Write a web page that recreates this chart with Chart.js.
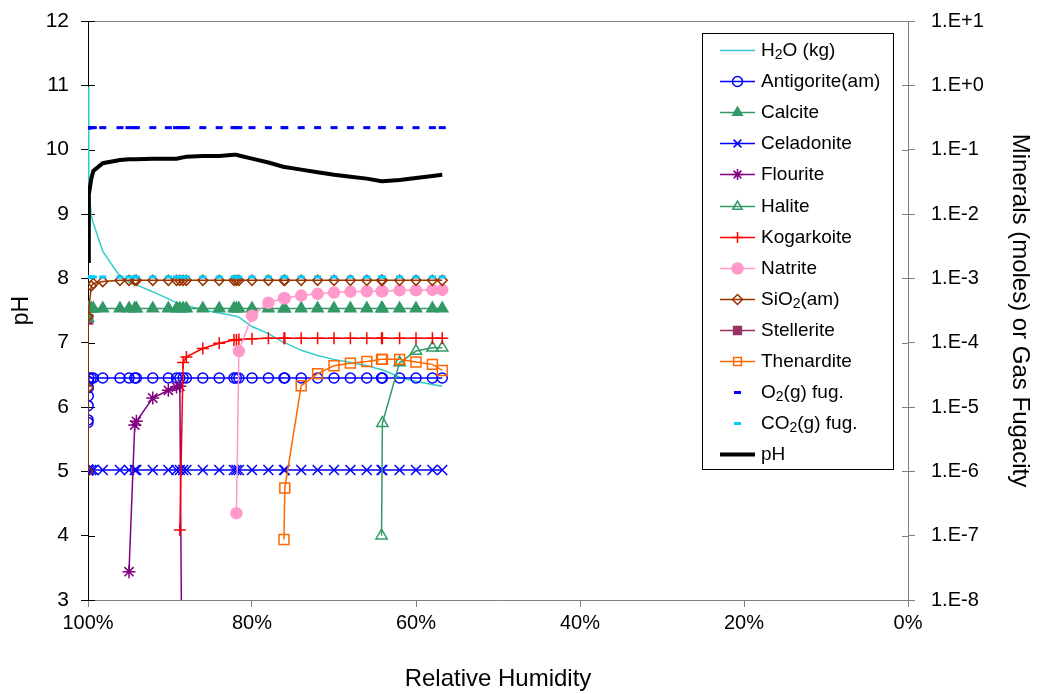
<!DOCTYPE html>
<html>
<head>
<meta charset="utf-8">
<title>Evaporation path</title>
<script src="https://cdn.jsdelivr.net/npm/chart.js@4.4.1/dist/chart.umd.min.js"></script>
<style>
  html, body { margin: 0; padding: 0; background: #fff; }
  #wrap { width: 1037px; height: 694px; }
</style>
</head>
<body>
<div id="wrap"><canvas id="rhChart" width="1037" height="694"></canvas></div>
<script>
const _ = null;

// relative humidity (%) at each reaction step
const rh = [100, 99.99, 99.98, 99.97, 99.96, 99.95, 99.9, 99.6, 99.35, 98.2,
  96.1, 95.0, 94.3, 94.1, 92.1, 90.2, 89.2, 88.8, 88.4, 88.0,
  86.0, 84.0, 82.2, 81.9, 81.6, 80.0, 78.0, 76.1, 76.0, 74.0,
  72.0, 70.0, 68.0, 66.0, 64.2, 64.1, 62.0, 60.0, 58.0, 56.8];

// right axis: water mass (kg), mineral amounts (moles), gas fugacities
const h2o = [0.95, _, _, _, _, _, 0.0275, 9.3e-3, 7.2e-3, 2.63e-3,
  1.07e-3, 8.7e-4, 8.1e-4, 7.9e-4, 6.2e-4, 4.8e-4, 4.2e-4, 4.1e-4, 4.0e-4, 3.8e-4,
  3.24e-4, 2.9e-4, 2.63e-4, 2.57e-4, 2.5e-4, 1.78e-4, 1.38e-4, 1.0e-4, 1.0e-4, 7.6e-5,
  6.3e-5, 5.5e-5, 4.9e-5, 4.4e-5, 3.8e-5, 3.8e-5, 2.9e-5, 2.5e-5, 2.24e-5, 2.1e-5];

const antigorite = [5.75e-6, 6.3e-6, 1.05e-5, 1.48e-5, 2.0e-5, 2.51e-5, 2.82e-5, 2.82e-5, 2.82e-5, 2.82e-5,
  2.82e-5, 2.82e-5, 2.82e-5, 2.82e-5, 2.82e-5, 2.82e-5, 2.82e-5, 2.82e-5, 2.82e-5, 2.82e-5,
  2.82e-5, 2.82e-5, 2.82e-5, 2.82e-5, 2.82e-5, 2.82e-5, 2.82e-5, 2.82e-5, 2.82e-5, 2.82e-5,
  2.82e-5, 2.82e-5, 2.82e-5, 2.82e-5, 2.82e-5, 2.82e-5, 2.82e-5, 2.82e-5, 2.82e-5, 2.82e-5];

const calcite = [2.4e-4, 3.39e-4, 3.39e-4, 3.39e-4, 3.39e-4, 3.39e-4, 3.39e-4, 3.39e-4, 3.39e-4, 3.39e-4,
  3.39e-4, 3.39e-4, 3.39e-4, 3.39e-4, 3.39e-4, 3.39e-4, 3.39e-4, 3.39e-4, 3.39e-4, 3.39e-4,
  3.39e-4, 3.39e-4, 3.39e-4, 3.39e-4, 3.39e-4, 3.39e-4, 3.39e-4, 3.39e-4, 3.39e-4, 3.39e-4,
  3.39e-4, 3.39e-4, 3.39e-4, 3.39e-4, 3.39e-4, 3.39e-4, 3.39e-4, 3.39e-4, 3.39e-4, 3.39e-4];

const celadonite = [1.05e-6, 1.05e-6, 1.05e-6, 1.05e-6, 1.05e-6, 1.05e-6, 1.05e-6, 1.05e-6, 1.05e-6, 1.05e-6,
  1.05e-6, 1.05e-6, 1.05e-6, 1.05e-6, 1.05e-6, 1.05e-6, 1.05e-6, 1.05e-6, 1.05e-6, 1.05e-6,
  1.05e-6, 1.05e-6, 1.05e-6, 1.05e-6, 1.05e-6, 1.05e-6, 1.05e-6, 1.05e-6, 1.05e-6, 1.05e-6,
  1.05e-6, 1.05e-6, 1.05e-6, 1.05e-6, 1.05e-6, 1.05e-6, 1.05e-6, 1.05e-6, 1.05e-6, 1.05e-6];

const flourite = [_, _, _, _, _, _, _, _, _, _,
  _, 2.75e-8, 5.25e-6, 6.0e-6, 1.38e-5, 1.82e-5, 2.04e-5, 2.1e-5, 1e-12, _,
  _, _, _, _, _, _, _, _, _, _,
  _, _, _, _, _, _, _, _, _, _];

const halite = [_, _, _, _, _, _, _, _, _, _,
  _, _, _, _, _, _, _, _, _, _,
  _, _, _, _, _, _, _, _, _, _,
  _, _, _, _, 1.0e-7, 5.6e-6, 4.9e-5, 7.4e-5, 8.3e-5, 8.3e-5];

const kogarkoite = [_, _, _, _, _, _, _, _, _, _,
  _, _, _, _, _, _, _, 1.23e-7, 4.9e-5, 6.0e-5,
  8.1e-5, 9.8e-5, 1.1e-4, 1.1e-4, 1.12e-4, 1.15e-4, 1.17e-4, 1.17e-4, 1.17e-4, 1.17e-4,
  1.17e-4, 1.17e-4, 1.17e-4, 1.17e-4, 1.17e-4, 1.17e-4, 1.17e-4, 1.17e-4, 1.17e-4, 1.17e-4];

const natrite = [_, _, _, _, _, _, _, _, _, _,
  _, _, _, _, _, _, _, _, _, _,
  _, _, _, 2.24e-7, 7.4e-5, 2.63e-4, 4.17e-4, 4.9e-4, 4.9e-4, 5.4e-4,
  5.75e-4, 6.0e-4, 6.2e-4, 6.3e-4, 6.3e-4, 6.3e-4, 6.5e-4, 6.5e-4, 6.6e-4, 6.6e-4];

const sio2 = [1.0e-6, 2.0e-5, 2.57e-4, _, _, _, _, 7.6e-4, 8.3e-4, 8.9e-4,
  9.3e-4, 9.3e-4, 9.3e-4, 9.3e-4, 9.3e-4, 9.3e-4, 9.3e-4, 9.3e-4, 9.3e-4, 9.3e-4,
  9.3e-4, 9.3e-4, 9.3e-4, 9.3e-4, 9.3e-4, 9.3e-4, 9.3e-4, 9.3e-4, 9.3e-4, 9.3e-4,
  9.3e-4, 9.3e-4, 9.3e-4, 9.3e-4, 9.3e-4, 9.3e-4, 9.3e-4, 9.3e-4, 9.3e-4, 9.3e-4];

const stellerite = [2.3e-4, _, _, _, _, _, _, _, _, _,
  _, _, _, _, _, _, _, _, _, _,
  _, _, _, _, _, _, _, _, _, _,
  _, _, _, _, _, _, _, _, _, _];

const thenardite = [_, _, _, _, _, _, _, _, _, _,
  _, _, _, _, _, _, _, _, _, _,
  _, _, _, _, _, _, _, 8.7e-8, 5.5e-7, 2.14e-5,
  3.3e-5, 4.37e-5, 4.8e-5, 5.1e-5, 5.5e-5, 5.5e-5, 5.5e-5, 5.0e-5, 4.6e-5, 3.7e-5];

const o2Fug = [0.22, 0.22, 0.22, 0.22, 0.22, 0.22, 0.22, 0.22, 0.22, 0.22,
  0.22, 0.22, 0.22, 0.22, 0.22, 0.22, 0.22, 0.22, 0.22, 0.22,
  0.22, 0.22, 0.22, 0.22, 0.22, 0.22, 0.22, 0.22, 0.22, 0.22,
  0.22, 0.22, 0.22, 0.22, 0.22, 0.22, 0.22, 0.22, 0.22, 0.22];

const co2Fug = [1.05e-3, 1.05e-3, 1.05e-3, 1.05e-3, 1.05e-3, 1.05e-3, 1.05e-3, 1.05e-3, 1.05e-3, 1.05e-3,
  1.05e-3, 1.05e-3, 1.05e-3, 1.05e-3, 1.05e-3, 1.05e-3, 1.05e-3, 1.05e-3, 1.05e-3, 1.05e-3,
  1.05e-3, 1.05e-3, 1.05e-3, 1.05e-3, 1.05e-3, 1.05e-3, 1.05e-3, 1.05e-3, 1.05e-3, 1.05e-3,
  1.05e-3, 1.05e-3, 1.05e-3, 1.05e-3, 1.05e-3, 1.05e-3, 1.05e-3, 1.05e-3, 1.05e-3, 1.05e-3];

// left axis: solution pH
const ph = [8.27, _, _, _, _, _, 9.30, 9.55, 9.67, 9.79,
  9.84, 9.85, 9.85, 9.85, 9.86, 9.86, 9.86, 9.87, 9.88, 9.89,
  9.90, 9.90, 9.92, 9.92, 9.91, 9.86, 9.80, 9.73, 9.73, 9.69,
  9.65, 9.61, 9.58, 9.55, 9.51, 9.51, 9.53, 9.56, 9.59, 9.61];

const phTicks = [3, 12];
const molTickExps = [-8, -7, -6, -5, -4, -3, -2, -1, 0, 1];
const rhTicks = [0, 20, 40, 60, 80, 100];

const FONT = "'Liberation Sans', Arial, Helvetica, sans-serif";
Chart.defaults.font.family = FONT;
Chart.defaults.color = '#000';

// label, values, colour, marker, marker radius, marker filled, axis
const series = [
  ['H₂O (kg)', h2o, '#33CCCC', false, 0, false, 'y2'],
  ['Antigorite(am)', antigorite, '#0000FF', 'circle', 5, false, 'y2'],
  ['Calcite', calcite, '#339966', 'triangle', 6.5, true, 'y2'],
  ['Celadonite', celadonite, '#0000FF', 'crossRot', 7, false, 'y2'],
  ['Flourite', flourite, '#800080', 'star', 6.5, false, 'y2'],
  ['Halite', halite, '#339966', 'triangle', 6.5, false, 'y2'],
  ['Kogarkoite', kogarkoite, '#FF0000', 'cross', 6, false, 'y2'],
  ['Natrite', natrite, '#FF99CC', 'circle', 5.5, true, 'y2'],
  ['SiO₂(am)', sio2, '#993300', 'rectRot', 5, false, 'y2'],
  ['Stellerite', stellerite, '#993366', 'rect', 6.5, true, 'y2'],
  ['Thenardite', thenardite, '#FF6600', 'rect', 7, false, 'y2'],
  ['O₂(g) fug.', o2Fug, '#0000FF', 'line', 3.5, false, 'y2'],
  ['CO₂(g) fug.', co2Fug, '#00CCFF', 'line', 3.5, false, 'y2'],
  ['pH', ph, '#000000', false, 0, false, 'y']
];

const N = series.length;
const datasets = series.map(([label, values, color, marker, radius, filled, axis], i) => {
  const isFug = marker === 'line';
  return {
    label,
    data: rh.map((x, k) => ({ x, y: values[k] })),
    yAxisID: axis,
    borderColor: color,
    backgroundColor: color,
    borderWidth: label === 'pH' ? 4 : 1.5,
    showLine: !isFug,
    spanGaps: true,
    tension: 0,
    pointStyle: marker || 'circle',
    pointRadius: radius,
    pointBorderWidth: isFug ? 3 : 1.5,
    pointBorderColor: color,
    pointBackgroundColor: filled ? color : 'rgba(0,0,0,0)',
    order: label === 'Stellerite' ? N + 1 : N - i
  };
});

// draws "₂" as a lowered, smaller 2
function drawRichLabel(ctx, text, x, y, size) {
  const parts = text.split('₂');
  let cx = x;
  parts.forEach((p, k) => {
    if (k > 0) {
      ctx.font = Math.round(size * 0.72) + 'px ' + FONT;
      ctx.fillText('2', cx, y + 5);
      cx += ctx.measureText('2').width;
    }
    ctx.font = size + 'px ' + FONT;
    ctx.fillText(p, cx, y);
    cx += ctx.measureText(p).width;
  });
}

const boxLegend = {
  id: 'boxLegend',
  afterDraw(chart) {
    const ctx = chart.ctx;
    const bx = 702, by = 33, bw = 191, bh = 436;
    ctx.save();
    ctx.fillStyle = '#fff';
    ctx.fillRect(bx, by, bw, bh);
    ctx.strokeStyle = '#000';
    ctx.lineWidth = 1;
    ctx.strokeRect(bx + 0.5, by + 0.5, bw, bh);
    ctx.textBaseline = 'middle';
    ctx.textAlign = 'left';
    chart.data.datasets.forEach((ds, i) => {
      const y = Math.round(50 + i * 31.1) + 0.5;
      if (ds.showLine) {
        ctx.strokeStyle = ds.borderColor;
        ctx.lineWidth = ds.borderWidth;
        ctx.beginPath();
        ctx.moveTo(720, y);
        ctx.lineTo(755, y);
        ctx.stroke();
      }
      if (ds.pointRadius > 0) {
        ctx.strokeStyle = ds.pointBorderColor;
        ctx.fillStyle = ds.pointBackgroundColor;
        ctx.lineWidth = ds.pointBorderWidth;
        Chart.helpers.drawPoint(ctx, {
          pointStyle: ds.pointStyle, rotation: 0,
          radius: Math.min(ds.pointRadius, 5.5), borderWidth: ds.pointBorderWidth
        }, 737.5, y);
      }
      ctx.fillStyle = '#000';
      drawRichLabel(ctx, ds.label, 761, y, 19);
    });
    ctx.restore();
  }
};

// grey frame top edge and tick marks that cross the vertical axes
const frameTicks = {
  id: 'frameTicks',
  beforeDatasetsDraw(chart) {
    const { ctx, chartArea: a, scales } = chart;
    ctx.save();
    ctx.lineWidth = 1;
    ctx.strokeStyle = '#808080';
    ctx.beginPath();
    ctx.moveTo(a.left, a.top + 0.5);
    ctx.lineTo(a.right, a.top + 0.5);
    ctx.stroke();
    ctx.strokeStyle = '#000';
    ctx.beginPath();
    scales.y.ticks.forEach(t => {
      const py = Math.round(scales.y.getPixelForValue(t.value)) + 0.5;
      ctx.moveTo(a.left, py);
      ctx.lineTo(a.left + 7, py);
    });
    ctx.stroke();
    ctx.strokeStyle = '#808080';
    ctx.beginPath();
    scales.y2.ticks.forEach(t => {
      const py = Math.round(scales.y2.getPixelForValue(t.value)) + 0.5;
      ctx.moveTo(a.right - 6, py);
      ctx.lineTo(a.right, py);
    });
    ctx.stroke();
    ctx.restore();
  }
};

// fixed axis boxes so the plot frame sits at 88..908 x 21..600
function fixVertical(width) {
  return s => { s.width = width; s.paddingTop = 0; s.paddingBottom = 0; };
}

new Chart(document.getElementById('rhChart'), {
  type: 'line',
  data: { datasets },
  options: {
    responsive: false,
    animation: false,
    events: [],
    layout: { padding: { top: 21, left: 0, right: 0, bottom: 0 } },
    plugins: { legend: { display: false }, tooltip: { enabled: false } },
    scales: {
      x: {
        type: 'linear',
        reverse: true,
        min: rhTicks[0],
        max: rhTicks[rhTicks.length - 1],
        afterBuildTicks: s => { s.ticks = rhTicks.map(v => ({ value: v })); },
        afterFit: s => { s.height = 94; s.paddingLeft = 0; s.paddingRight = 0; },
        grid: { drawOnChartArea: false, color: '#808080', tickLength: 7 },
        border: { color: '#808080', width: 1 },
        ticks: { font: { size: 20 }, padding: 4, maxRotation: 0, callback: v => v + '%' },
        title: { display: true, text: 'Relative Humidity', font: { size: 24 }, padding: { top: 0, bottom: 0 } }
      },
      y: {
        type: 'linear',
        position: 'left',
        min: phTicks[0],
        max: phTicks[1],
        afterFit: fixVertical(88),
        grid: { drawOnChartArea: false, color: '#000', tickLength: 7 },
        border: { color: '#000', width: 1 },
        ticks: { stepSize: 1, font: { size: 21 }, padding: 12 },
        title: { display: true, text: 'pH', font: { size: 23 }, padding: { top: 8, bottom: 0 } }
      },
      y2: {
        type: 'logarithmic',
        position: 'right',
        min: Math.pow(10, molTickExps[0]),
        max: Math.pow(10, molTickExps[molTickExps.length - 1]),
        afterBuildTicks: s => { s.ticks = molTickExps.map(e => ({ value: Math.pow(10, e) })); },
        afterFit: fixVertical(129),
        grid: { drawOnChartArea: false, color: '#808080', tickLength: 7 },
        border: { color: '#808080', width: 1 },
        ticks: {
          font: { size: 20 },
          padding: 16,
          callback: v => {
            const e = Math.round(Math.log10(v));
            return '1.E' + (e >= 0 ? '+' : '') + e;
          }
        },
        title: { display: true, text: 'Minerals (moles) or Gas Fugacity', font: { size: 24 }, padding: { top: 3, bottom: 0 } }
      }
    }
  },
  plugins: [frameTicks, boxLegend]
});
</script>
</body>
</html>
